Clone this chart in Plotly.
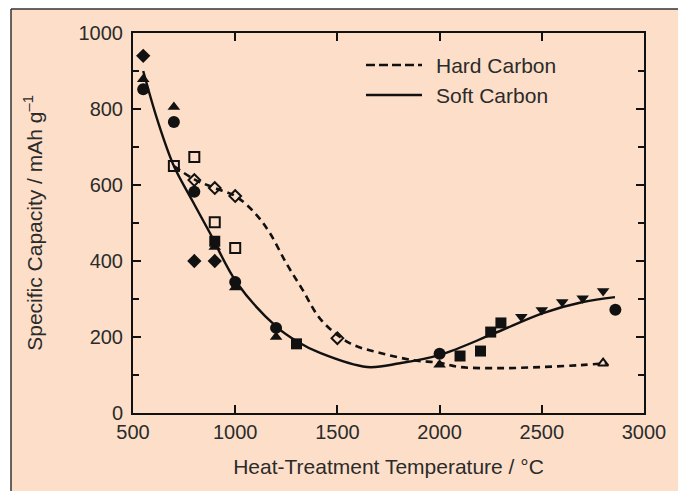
import plotly.graph_objects as go

# Fitted trend curves (temperature in °C, capacity in mAh/g)
soft_curve_x = [550, 620, 700, 789, 877, 1009, 1204, 1307, 1415, 1645, 1806, 2002, 2261, 2506, 2701, 2858]
soft_curve_y = [900, 770, 650, 560, 473, 342, 226, 187, 158, 121, 131, 153, 208, 263, 292, 305]

hard_curve_x = [700, 800, 900, 1000, 1095, 1170, 1250, 1330, 1420, 1560, 1710, 1870, 2000, 2100, 2300, 2500, 2690, 2815]
hard_curve_y = [650, 615, 592, 571, 527, 473, 394, 324, 245, 184, 158, 139, 132, 121, 118, 121, 126, 131]

# Measured samples grouped by marker
diamond_x = [550, 800, 900]
diamond_y = [940, 400, 400]
tri_up_x = [550, 700, 900, 1000, 1200, 2000]
tri_up_y = [878, 805, 437, 330, 200, 127]
circle_x = [550, 700, 800, 1000, 1200, 2000, 2860]
circle_y = [852, 766, 582, 345, 224, 156, 272]
square_x = [900, 1300, 2100, 2200, 2250, 2300]
square_y = [452, 182, 150, 163, 213, 237]
tri_down_x = [2400, 2500, 2600, 2700, 2800]
tri_down_y = [253, 271, 292, 302, 321]
open_square_x = [700, 800, 900, 1000]
open_square_y = [650, 674, 502, 434]
open_diamond_x = [800, 900, 1000, 1500]
open_diamond_y = [613, 592, 571, 197]
open_tri_x = [2800]
open_tri_y = [131]

x_ticks = [500, 1000, 1500, 2000, 2500, 3000]
y_ticks = [0, 200, 400, 600, 800, 1000]

PEACH = "#FDDFC9"
INK = "#111111"
TEXT = "#2b2b2b"
FONT = "Liberation Sans, Arial, sans-serif"

fig = go.Figure()

fig.add_trace(go.Scatter(x=soft_curve_x, y=soft_curve_y, mode="lines",
                         line=dict(color=INK, width=2.4, shape="spline", smoothing=1.0),
                         name="Soft Carbon", showlegend=False))
fig.add_trace(go.Scatter(x=hard_curve_x, y=hard_curve_y, mode="lines",
                         line=dict(color=INK, width=2.6, shape="spline", smoothing=1.0, dash="7px,5px"),
                         name="Hard Carbon", showlegend=False))

def pts(xs, ys, symbol, size, lw=0, color=INK):
    fig.add_trace(go.Scatter(x=xs, y=ys, mode="markers", showlegend=False,
                             marker=dict(symbol=symbol, size=size, color=color,
                                         line=dict(color=INK, width=lw))))

pts(tri_up_x, tri_up_y, "triangle-up", 11)
pts(circle_x, circle_y, "circle", 12)
pts(square_x, square_y, "square", 11)
pts(diamond_x, diamond_y, "diamond", 11)
pts(tri_down_x, tri_down_y, "triangle-down", 11)
pts(open_square_x, open_square_y, "square-open", 10, lw=2)
pts(open_diamond_x, open_diamond_y, "diamond-open", 9, lw=2)
pts(open_tri_x, open_tri_y, "triangle-up-open", 9, lw=2)

# plot-area pixel geometry used to place the frame and key in paper units
L, R, T, B = 133, 644, 33, 413
W, H = R - L, B - T
def px(x): return (x - L) / W
def py(y): return (B - y) / H

shapes = [
    dict(type="rect", xref="paper", yref="paper", x0=px(11), x1=px(690), y0=py(9), y1=py(500),
         fillcolor=PEACH, line=dict(width=0), layer="below"),
    dict(type="line", xref="paper", yref="paper", x0=px(11), x1=px(11), y0=py(9), y1=py(500),
         line=dict(color="#333333", width=1.5)),
    dict(type="line", xref="paper", yref="paper", x0=px(11), x1=px(690), y0=py(9), y1=py(9),
         line=dict(color="#333333", width=1.5)),
    # key
    dict(type="line", xref="paper", yref="paper", x0=px(366), x1=px(422), y0=py(65), y1=py(65),
         line=dict(color=INK, width=2.4, dash="9px,4px")),
    dict(type="line", xref="paper", yref="paper", x0=px(366), x1=px(422), y0=py(95), y1=py(95),
         line=dict(color=INK, width=2.6)),
]
annotations = [
    dict(xref="paper", yref="paper", x=px(434), y=py(65), text="Hard Carbon", showarrow=False,
         xanchor="left", yanchor="middle", font=dict(family=FONT, size=21, color=TEXT)),
    dict(xref="paper", yref="paper", x=px(434), y=py(96), text="Soft Carbon", showarrow=False,
         xanchor="left", yanchor="middle", font=dict(family=FONT, size=21, color=TEXT)),
]

axis_common = dict(showline=True, linecolor=INK, linewidth=2, mirror="ticks",
                   ticks="inside", tickcolor=INK, tickwidth=2, ticklen=8,
                   showgrid=False, zeroline=False,
                   tickfont=dict(family=FONT, size=20, color=TEXT))

fig.update_xaxes(range=[500, 3000], tickvals=x_ticks, ticktext=[str(v) for v in x_ticks],
                 title=dict(text="Heat-Treatment Temperature / °C", standoff=17,
                            font=dict(family=FONT, size=21, color=TEXT)),
                 **axis_common)
fig.update_yaxes(range=[0, 1000], tickvals=y_ticks, ticktext=[str(v) for v in y_ticks],
                 minor=dict(dtick=100, ticks="inside", ticklen=6, tickcolor=INK, tickwidth=2),
                 ticklabelstandoff=4,
                 title=dict(text="Specific Capacity / mAh g<sup>–1</sup>", standoff=30,
                            font=dict(family=FONT, size=21, color=TEXT)),
                 **axis_common)

fig.update_layout(width=678, height=491,
                  margin=dict(l=L, r=678 - R, t=T, b=491 - B),
                  paper_bgcolor="white", plot_bgcolor=PEACH,
                  showlegend=False, shapes=shapes, annotations=annotations)

fig.write_html("out.html")
